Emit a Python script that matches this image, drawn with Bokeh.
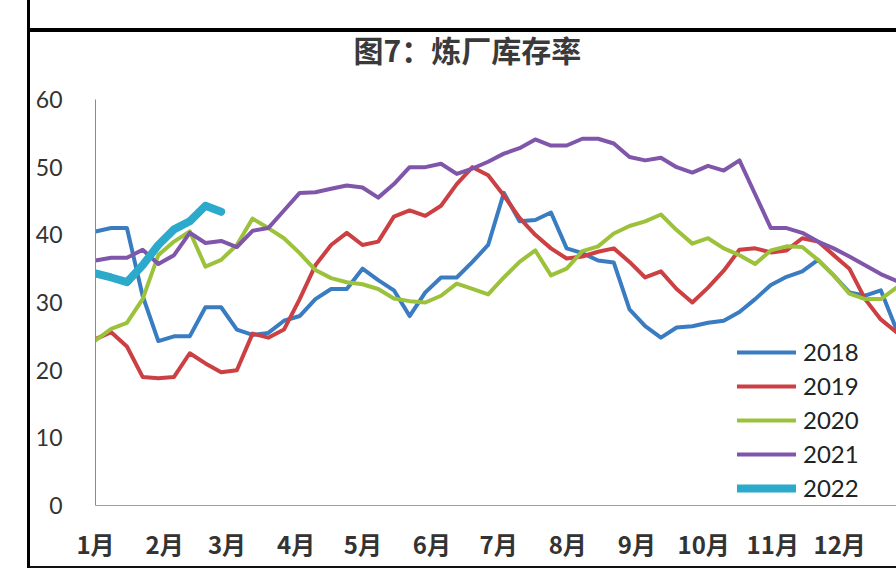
from bokeh.plotting import figure
from bokeh.models import Range1d, FixedTicker, Legend, LegendItem, Spacer
from bokeh.layouts import column
from bokeh.embed import file_html
from bokeh.resources import INLINE

title_text = "图7：炼厂库存率"
months = ["1月", "2月", "3月", "4月", "5月", "6月", "7月", "8月", "9月", "10月", "11月", "12月"]
month_start_days = [0, 31, 59, 90, 120, 151, 181, 212, 243, 273, 304, 334]
years = ["2018", "2019", "2020", "2021", "2022"]

s2018 = [40.5, 41, 41, 31, 24.3, 25, 25, 29.3, 29.3, 26, 25.2, 25.5, 27.3, 28, 30.5, 32, 32, 35,
         33.3, 31.8, 28, 31.5, 33.7, 33.7, 36, 38.5, 46.2, 42, 42.2, 43.3, 38, 37.3, 36.2, 35.9,
         29, 26.5, 24.8, 26.3, 26.5, 27, 27.3, 28.6, 30.5, 32.6, 33.8, 34.6, 36.3, 34, 31.5, 31,
         31.8, 26]
s2019 = [24.6, 25.6, 23.5, 19, 18.8, 19, 22.5, 21, 19.7, 20, 25.4, 24.8, 26, 30.5, 35.5, 38.5,
         40.3, 38.5, 39, 42.7, 43.6, 42.8, 44.3, 47.5, 50, 48.8, 45.8, 42.5, 40, 38, 36.5, 36.8,
         37.5, 38, 36, 33.7, 34.6, 32, 30, 32.2, 34.7, 37.8, 38, 37.4, 37.7, 39.5, 39, 37, 35,
         30.5, 27.5, 25.6]
s2020 = [24.4, 26.1, 27, 30.5, 37, 39, 40.5, 35.3, 36.3, 38.5, 42.4, 41, 39.5, 37.3, 34.8, 33.6,
         33, 32.7, 32, 30.6, 30.2, 30, 31, 32.8, 32, 31.2, 33.7, 36, 37.7, 34, 35, 37.6, 38.3,
         40.2, 41.3, 42, 43, 40.7, 38.7, 39.5, 38, 37, 35.7, 37.7, 38.3, 38.2, 36.3, 34, 31.3,
         30.5, 30.5, 32.2]
s2021 = [36.2, 36.6, 36.6, 37.8, 35.7, 37, 40.3, 38.8, 39.1, 38.2, 40.6, 41, 43.6, 46.2, 46.3,
         46.8, 47.3, 47, 45.5, 47.5, 50, 50, 50.5, 49, 49.8, 50.8, 52, 52.8, 54.1, 53.2, 53.2,
         54.2, 54.2, 53.5, 51.5, 51, 51.4, 50, 49.2, 50.2, 49.5, 51, 46, 41, 41, 40.3, 39, 38,
         36.8, 35.5, 34.2, 33.2]
s2022 = [34.3, 33.7, 33, 35.5, 38.5, 40.8, 42, 44.3, 43.4]

series = [s2018, s2019, s2020, s2021, s2022]
colors = ["#3a7cc2", "#cc4043", "#9cc23c", "#8056ab", "#2caacb"]
widths = [4, 4, 4, 4, 8]

p = figure(width=866, height=566, output_backend="svg", toolbar_location=None,
           x_range=Range1d(0, 51), y_range=Range1d(0, 60),
           min_border_left=65, min_border_right=0, min_border_top=99, min_border_bottom=61)
p.outline_line_color = None
p.xgrid.visible = False
p.ygrid.visible = False
p.border_fill_alpha = 0
# thick black rule across the top of the panel (drawn as the figure's CSS background)
p.styles = {"background-image": "linear-gradient(#000000, #000000)",
            "background-size": "100% 4px",
            "background-position": "0px 28px",
            "background-repeat": "no-repeat"}

renderers = []
for vals, c, w in zip(series, colors, widths):
    xs = list(range(len(vals)))
    r = p.line(xs, vals, line_color=c, line_width=w, line_join="round", line_cap="round")
    renderers.append(r)

ticks = [round(d / 7.05, 2) for d in month_start_days]
p.xaxis.ticker = FixedTicker(ticks=ticks)
p.xaxis.major_label_overrides = {t: m for t, m in zip(ticks, months)}
p.xaxis.axis_line_color = "#a0a0a0"
p.xaxis.major_tick_line_color = None
p.xaxis.minor_tick_line_color = None
p.xaxis.major_tick_out = 0
p.xaxis.major_label_standoff = 20
p.xaxis.major_label_text_font = "Noto Sans CJK SC"
p.xaxis.major_label_text_font_style = "bold"
p.xaxis.major_label_text_font_size = "24px"
p.xaxis.major_label_text_color = "#333333"

p.yaxis.ticker = FixedTicker(ticks=[0, 10, 20, 30, 40, 50, 60])
p.yaxis.axis_line_color = "#8a8a8a"
p.yaxis.major_tick_line_color = None
p.yaxis.minor_tick_line_color = None
p.yaxis.major_tick_out = 0
p.yaxis.major_label_standoff = 33
p.yaxis.major_label_text_font = "Lato"
p.yaxis.major_label_text_font_size = "23px"
p.yaxis.major_label_text_color = "#333333"

p.title.text = title_text
p.title.text_font = "Noto Sans CJK SC"
p.title.text_font_size = "30px"
p.title.text_font_style = "bold"
p.title.text_color = "#3a3a3a"
p.title.align = "left"
p.title.offset = 258
p.title.standoff = 53
p.title.vertical_align = "top"

items = [LegendItem(label=y, renderers=[r]) for y, r in zip(years, renderers)]
legend = Legend(items=items, location=(642, 3), glyph_width=59, glyph_height=20,
                label_height=20, label_standoff=7, spacing=5, padding=0, margin=0,
                border_line_color=None, background_fill_alpha=0,
                label_text_font="Lato", label_text_font_size="24px",
                label_text_color="#222222")
p.add_layout(legend)

bottom_bar = Spacer(width=866, height=2, styles={"background-color": "#111111"})
layout = column(p, bottom_bar, spacing=0,
                styles={"margin-left": "27px", "border-left": "3px solid #000000"})

open("out.html", "w").write(file_html(layout, INLINE))
